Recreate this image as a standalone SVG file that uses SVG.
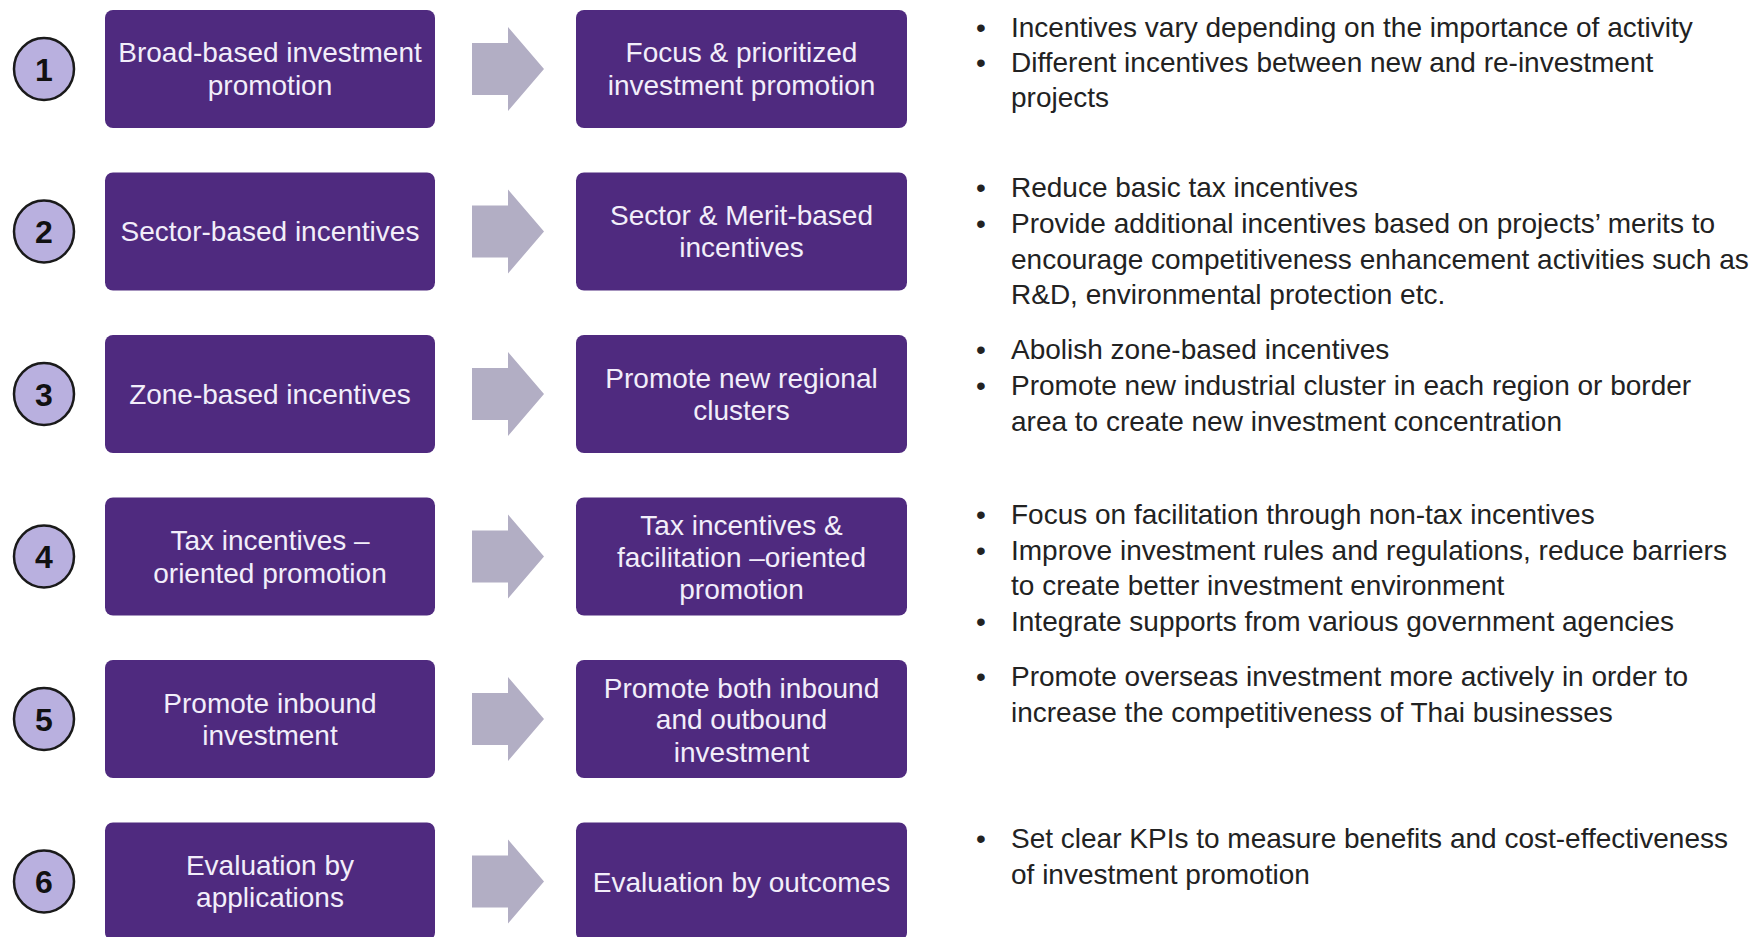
<svg xmlns="http://www.w3.org/2000/svg" width="1754" height="937" viewBox="0 0 1754 937">
  <style>
    .box { fill: #4f2a7f; }
    .badge { fill: #b9b0df; stroke: #1a1a1a; stroke-width: 2.5; }
    .num { font-family: "Liberation Sans", Arial, sans-serif; font-weight: bold; font-size: 32px; fill: #111; text-anchor: middle; }
    .lbl { font-family: "Liberation Sans", Arial, sans-serif; font-size: 28px; fill: #f2eefa; text-anchor: middle; }
    .note { font-family: "Liberation Sans", Arial, sans-serif; font-size: 28px; fill: #222; }
    .arrow { fill: #b2aec4; }
  </style>
  <defs>
    <!-- block arrow centred on y=0 -->
    <polygon id="blockArrow" class="arrow" points="472,-26 508,-26 508,-42 544,0 508,42 508,26 472,26"/>
  </defs>
  <rect width="1754" height="937" fill="#ffffff"/>

  <!-- connectors between the old and new approach boxes -->
  <g id="connectors">
    <use href="#blockArrow" y="69"/>
    <use href="#blockArrow" y="231.5"/>
    <use href="#blockArrow" y="394"/>
    <use href="#blockArrow" y="556.5"/>
    <use href="#blockArrow" y="719"/>
    <use href="#blockArrow" y="881.5"/>
  </g>

  <!-- row 1 -->
  <g id="badge-1"><ellipse class="badge" cx="44" cy="69" rx="30" ry="31"/><text class="num" x="44" y="80.5">1</text></g>
  <g id="from-1"><rect class="box" x="105" y="10" width="330" height="118" rx="8"/>
    <text class="lbl" x="270" y="62">Broad-based investment</text><text class="lbl" x="270" y="95">promotion</text></g>
  <g id="to-1"><rect class="box" x="576" y="10" width="331" height="118" rx="8"/>
    <text class="lbl" x="741.5" y="62">Focus &amp; prioritized</text><text class="lbl" x="741.5" y="95">investment promotion</text></g>
  <g id="notes-1" class="note">
    <text x="976" y="37">•</text><text x="1011" y="37">Incentives vary depending on the importance of activity</text>
    <text x="976" y="72">•</text><text x="1011" y="72">Different incentives between new and re-investment</text>
    <text x="1011" y="106.5">projects</text>
  </g>

  <!-- row 2 -->
  <g id="badge-2"><ellipse class="badge" cx="44" cy="231.5" rx="30" ry="31"/><text class="num" x="44" y="243">2</text></g>
  <g id="from-2"><rect class="box" x="105" y="172.5" width="330" height="118" rx="8"/>
    <text class="lbl" x="270" y="241">Sector-based incentives</text></g>
  <g id="to-2"><rect class="box" x="576" y="172.5" width="331" height="118" rx="8"/>
    <text class="lbl" x="741.5" y="225">Sector &amp; Merit-based</text><text class="lbl" x="741.5" y="257">incentives</text></g>
  <g id="notes-2" class="note">
    <text x="976" y="197">•</text><text x="1011" y="197">Reduce basic tax incentives</text>
    <text x="976" y="233">•</text><text x="1011" y="233">Provide additional incentives based on projects’ merits to</text>
    <text x="1011" y="268.5">encourage competitiveness enhancement activities such as</text>
    <text x="1011" y="304">R&amp;D, environmental protection etc.</text>
  </g>

  <!-- row 3 -->
  <g id="badge-3"><ellipse class="badge" cx="44" cy="394" rx="30" ry="31"/><text class="num" x="44" y="405.5">3</text></g>
  <g id="from-3"><rect class="box" x="105" y="335" width="330" height="118" rx="8"/>
    <text class="lbl" x="270" y="404">Zone-based incentives</text></g>
  <g id="to-3"><rect class="box" x="576" y="335" width="331" height="118" rx="8"/>
    <text class="lbl" x="741.5" y="387.5">Promote new regional</text><text class="lbl" x="741.5" y="419.5">clusters</text></g>
  <g id="notes-3" class="note">
    <text x="976" y="359">•</text><text x="1011" y="359">Abolish zone-based incentives</text>
    <text x="976" y="395">•</text><text x="1011" y="395">Promote new industrial cluster in each region or border</text>
    <text x="1011" y="431">area to create new investment concentration</text>
  </g>

  <!-- row 4 -->
  <g id="badge-4"><ellipse class="badge" cx="44" cy="556.5" rx="30" ry="31"/><text class="num" x="44" y="568">4</text></g>
  <g id="from-4"><rect class="box" x="105" y="497.5" width="330" height="118" rx="8"/>
    <text class="lbl" x="270" y="549.5">Tax incentives –</text><text class="lbl" x="270" y="582.5">oriented promotion</text></g>
  <g id="to-4"><rect class="box" x="576" y="497.5" width="331" height="118" rx="8"/>
    <text class="lbl" x="741.5" y="535">Tax incentives &amp;</text><text class="lbl" x="741.5" y="567">facilitation –oriented</text><text class="lbl" x="741.5" y="599">promotion</text></g>
  <g id="notes-4" class="note">
    <text x="976" y="524">•</text><text x="1011" y="524">Focus on facilitation through non-tax incentives</text>
    <text x="976" y="560">•</text><text x="1011" y="560">Improve investment rules and regulations, reduce barriers</text>
    <text x="1011" y="595">to create better investment environment</text>
    <text x="976" y="631">•</text><text x="1011" y="631">Integrate supports from various government agencies</text>
  </g>

  <!-- row 5 -->
  <g id="badge-5"><ellipse class="badge" cx="44" cy="719" rx="30" ry="31"/><text class="num" x="44" y="730.5">5</text></g>
  <g id="from-5"><rect class="box" x="105" y="660" width="330" height="118" rx="8"/>
    <text class="lbl" x="270" y="713">Promote inbound</text><text class="lbl" x="270" y="745">investment</text></g>
  <g id="to-5"><rect class="box" x="576" y="660" width="331" height="118" rx="8"/>
    <text class="lbl" x="741.5" y="698">Promote both inbound</text><text class="lbl" x="741.5" y="729">and outbound</text><text class="lbl" x="741.5" y="762">investment</text></g>
  <g id="notes-5" class="note">
    <text x="976" y="686">•</text><text x="1011" y="686">Promote overseas investment more actively in order to</text>
    <text x="1011" y="722">increase the competitiveness of Thai businesses</text>
  </g>

  <!-- row 6 -->
  <g id="badge-6"><ellipse class="badge" cx="44" cy="881.5" rx="30" ry="31"/><text class="num" x="44" y="893">6</text></g>
  <g id="from-6"><rect class="box" x="105" y="822.5" width="330" height="118" rx="8"/>
    <text class="lbl" x="270" y="875">Evaluation by</text><text class="lbl" x="270" y="907">applications</text></g>
  <g id="to-6"><rect class="box" x="576" y="822.5" width="331" height="118" rx="8"/>
    <text class="lbl" x="741.5" y="892">Evaluation by outcomes</text></g>
  <g id="notes-6" class="note">
    <text x="976" y="848">•</text><text x="1011" y="848">Set clear KPIs to measure benefits and cost-effectiveness</text>
    <text x="1011" y="884">of investment promotion</text>
  </g>
</svg>
